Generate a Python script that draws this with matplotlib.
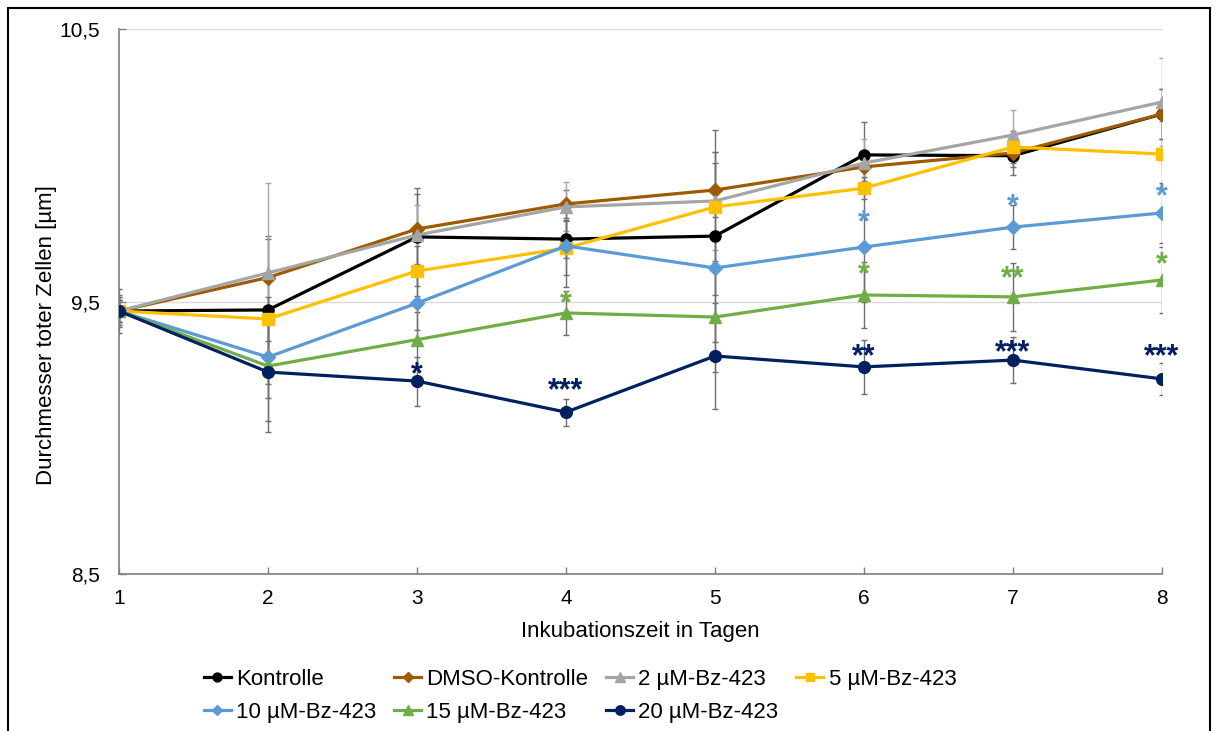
import matplotlib
matplotlib.use("Agg")
import matplotlib.pyplot as plt
from matplotlib.patches import Rectangle
from matplotlib.ticker import FuncFormatter

plt.rcParams['font.family'] = ['Liberation Sans', 'DejaVu Sans']

tage = [1, 2, 3, 4, 5, 6, 7, 8]

kontrolle = [9.465, 9.469, 9.737, 9.729, 9.740, 10.038, 10.035, 10.188]
dmso = [9.465, 9.588, 9.766, 9.858, 9.909, 9.994, 10.045, 10.188]
bz2 = [9.465, 9.605, 9.744, 9.847, 9.869, 10.008, 10.111, 10.232]
bz5 = [9.465, 9.436, 9.612, 9.696, 9.847, 9.916, 10.067, 10.041]
bz10 = [9.465, 9.296, 9.494, 9.704, 9.623, 9.700, 9.773, 9.825]
bz15 = [9.465, 9.263, 9.360, 9.458, 9.443, 9.524, 9.517, 9.579]
bz20 = [9.465, 9.241, 9.208, 9.094, 9.300, 9.260, 9.285, 9.216]

kontrolle_err = [0.08, 0.27, 0.18, 0.07, 0.39, 0.12, 0.07, 0.09]
dmso_err = [0.06, 0.14, 0.13, 0.05, 0.10, 0.05, 0.05, 0.09]
bz2_err = [0.05, 0.33, 0.11, 0.09, 0.18, 0.09, 0.09, 0.16]
bz5_err = [0.05, 0.08, 0.09, 0.10, 0.20, 0.04, 0.06, 0.12]
bz10_err = [0.04, 0.15, 0.10, 0.15, 0.10, 0.20, 0.08, 0.11]
bz15_err = [0.04, 0.20, 0.10, 0.08, 0.20, 0.12, 0.125, 0.12]
bz20_err = [0.04, 0.22, 0.09, 0.05, 0.195, 0.10, 0.085, 0.06]

namen = ["Kontrolle", "DMSO-Kontrolle", "2 µM-Bz-423", "5 µM-Bz-423",
         "10 µM-Bz-423", "15 µM-Bz-423", "20 µM-Bz-423"]
werte = [kontrolle, dmso, bz2, bz5, bz10, bz15, bz20]
fehler = [kontrolle_err, dmso_err, bz2_err, bz5_err, bz10_err, bz15_err, bz20_err]
farben = ["#000000", "#9E5A00", "#A5A5A5", "#FFC000", "#5B9BD5", "#70AD47", "#002060"]
marker = ["o", "D", "^", "s", "D", "^", "o"]
msize = [8, 7, 8.5, 8, 7, 8.5, 8.5]

# Signifikanzsterne: (Serie, Tag, Text, Höhe)
sterne_serie = [4, 4, 4, 5, 5, 5, 5, 6, 6, 6, 6, 6]
sterne_tag = [6, 7, 8, 4, 6, 7, 8, 3, 4, 6, 7, 8]
sterne_text = ["*", "*", "*", "*", "*", "**", "*", "*", "***", "**", "***", "***"]
sterne_y = [9.814, 9.872, 9.909, 9.517, 9.623, 9.608, 9.660, 9.256, 9.197, 9.322, 9.337, 9.322]

fig = plt.figure(figsize=(12.17, 7.31), dpi=100)
ax = fig.add_axes([119/1217, 1-574/731, (1162-119)/1217, (574-29)/731])

for i in range(len(werte)):
    ecol = "#A6A6A6" if i == 2 else "#6E6E6E"
    ax.errorbar(tage, werte[i], yerr=fehler[i], fmt="none", ecolor=ecol,
                elinewidth=1, capsize=2.5, capthick=1, zorder=1)

linien = []
for i in range(len(werte)):
    l, = ax.plot(tage, werte[i], color=farben[i], marker=marker[i], markersize=msize[i],
                 linewidth=2.3, label=namen[i], zorder=2+i)
    linien.append(l)

for s, t, txt, y in zip(sterne_serie, sterne_tag, sterne_text, sterne_y):
    ax.annotate(txt, (t, y), xytext=(0, -11), textcoords="offset points",
                ha="center", va="baseline", fontsize=22, fontweight="bold",
                color=farben[s], zorder=10)

ax.set_xlim(1, 8)
ax.set_ylim(8.5, 10.5)
ax.set_xticks(tage)
ax.set_yticks([8.5, 9.5, 10.5])
ax.yaxis.set_major_formatter(FuncFormatter(lambda v, p: ("%.1f" % v).replace(".", ",")))
ax.grid(axis="y", color="#D9D9D9", linewidth=1)
ax.set_axisbelow(True)
for s in ["top", "right"]:
    ax.spines[s].set_visible(False)
for s in ["left", "bottom"]:
    ax.spines[s].set_color("#7F7F7F")
    ax.spines[s].set_linewidth(1.2)
ax.tick_params(axis="both", direction="in", length=5, width=1, color="#7F7F7F",
               labelsize=15)
ax.tick_params(axis="x", pad=11)
ax.tick_params(axis="y", pad=14)

fig.text(47/1217, 1-335/731, "Durchmesser toter Zellen [µm]", rotation=90,
         ha="center", va="center", fontsize=16)
fig.text(640/1217, 1-632/731, "Inkubationszeit in Tagen", ha="center", va="center",
         fontsize=16)

reihenfolge = [0, 4, 1, 5, 2, 6, 3]
fig.legend([linien[k] for k in reihenfolge], [namen[k] for k in reihenfolge],
           loc="upper left", bbox_to_anchor=(204/1217, 1-669/731), ncol=4,
           frameon=False, fontsize=16, handlelength=1.2, handletextpad=0.25,
           columnspacing=0.8, labelspacing=0.55, borderpad=0, borderaxespad=0,
           markerscale=0.8)

fig.add_artist(Rectangle((8/1217, -0.05), (1210-8)/1217, 1-8/731+0.05,
                         transform=fig.transFigure, fill=False, edgecolor="black",
                         linewidth=1.5, clip_on=False))

plt.savefig("out.png", dpi=100)
